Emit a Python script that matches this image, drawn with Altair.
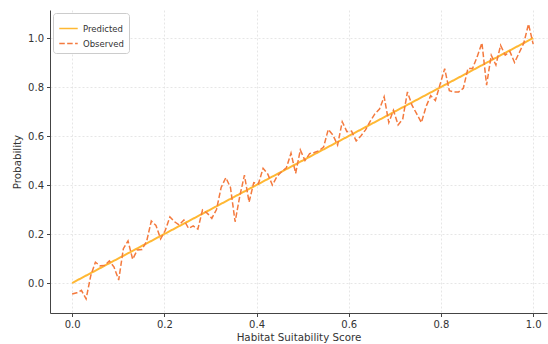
import altair as alt
import pandas as pd

# Observed series (100 evenly spaced scores from 0 to 1)
n_obs = 100
x_obs = [i / (n_obs - 1) for i in range(n_obs)]
y_obs = [
    -0.045, -0.040, -0.030, -0.065, 0.030, 0.085, 0.070, 0.072, 0.090, 0.065,
    0.012, 0.140, 0.172, 0.097, 0.135, 0.137, 0.170, 0.253, 0.235, 0.180,
    0.215, 0.270, 0.250, 0.237, 0.257, 0.223, 0.233, 0.220, 0.298, 0.285,
    0.264, 0.300, 0.390, 0.430, 0.390, 0.250, 0.355, 0.440, 0.330, 0.410,
    0.405, 0.468, 0.445, 0.400, 0.435, 0.455, 0.470, 0.530, 0.448, 0.543,
    0.500, 0.528, 0.533, 0.540, 0.555, 0.627, 0.604, 0.563, 0.658, 0.618,
    0.620, 0.580, 0.600, 0.625, 0.660, 0.690, 0.710, 0.760, 0.655, 0.705,
    0.645, 0.670, 0.780, 0.725, 0.690, 0.655, 0.720, 0.765, 0.745, 0.810,
    0.875, 0.785, 0.780, 0.780, 0.795, 0.876, 0.876, 0.925, 0.980, 0.808,
    0.930, 0.890, 0.970, 0.930, 0.945, 0.900, 0.940, 0.980, 1.057, 0.975,
]

# Predicted line endpoints
x_pred = [0.0, 1.0]
y_pred = [0.0, 1.0]

ticks = [0.0, 0.2, 0.4, 0.6, 0.8, 1.0]
series_names = ["Predicted", "Observed"]
series_colors = ["#FFB833", "#F47A3E"]
series_dash = [[1, 0], [5.5, 2.4]]

df_pred = pd.DataFrame({"x": x_pred, "y": y_pred, "series": "Predicted"})
df_obs = pd.DataFrame({"x": x_obs, "y": y_obs, "series": "Observed"})

FONT = "DejaVu Sans"

xscale = alt.Scale(domain=[-0.048, 1.030], nice=False, zero=False)
yscale = alt.Scale(domain=[-0.1224, 1.1143], nice=False, zero=False)

xenc = alt.X("x:Q", scale=xscale,
             axis=alt.Axis(values=ticks, format=".1f", title="Habitat Suitability Score"))
yenc = alt.Y("y:Q", scale=yscale,
             axis=alt.Axis(values=ticks, format=".1f", title="Probability"))

legend = alt.Legend(
    title=None, orient="none", legendX=3, legendY=3,
    fillColor="white", strokeColor="#cccccc", cornerRadius=3, padding=5,
    labelFontSize=8.5, labelFont=FONT, labelColor="#333333",
    symbolType="stroke", symbolSize=340, symbolStrokeWidth=1.6,
    rowPadding=-1,
)

color = alt.Color("series:N", scale=alt.Scale(domain=series_names, range=series_colors),
                  legend=legend)
dash = alt.StrokeDash("series:N", scale=alt.Scale(domain=series_names, range=series_dash),
                      legend=legend)

pred = alt.Chart(df_pred).mark_line(strokeWidth=2).encode(
    x=xenc, y=yenc, color=color, strokeDash=dash)
obs = alt.Chart(df_obs).mark_line(strokeWidth=1.5).encode(
    x=xenc, y=yenc, color=color, strokeDash=dash)

chart = alt.layer(pred, obs).properties(
    width=497, height=303,
    autosize=alt.AutoSizeParams(type="none"),
    padding={"left": 50, "top": 10, "right": 1, "bottom": 31},
    background="white",
).configure_view(
    stroke="transparent"
).configure_axis(
    labelFont=FONT, titleFont=FONT, labelFontSize=10, titleFontSize=10.3,
    titleFontWeight="normal", labelColor="#333333", titleColor="#333333",
    domainColor="#444444", domainWidth=1, tickColor="#444444", tickSize=3.5,
    labelPadding=3, titlePadding=3,
    gridColor="#e0e0e0", gridDash=[2, 2], gridWidth=0.8,
).configure_axisY(
    titlePadding=5
)

chart.save("out.html", embed_options={"renderer": "svg", "actions": False})
